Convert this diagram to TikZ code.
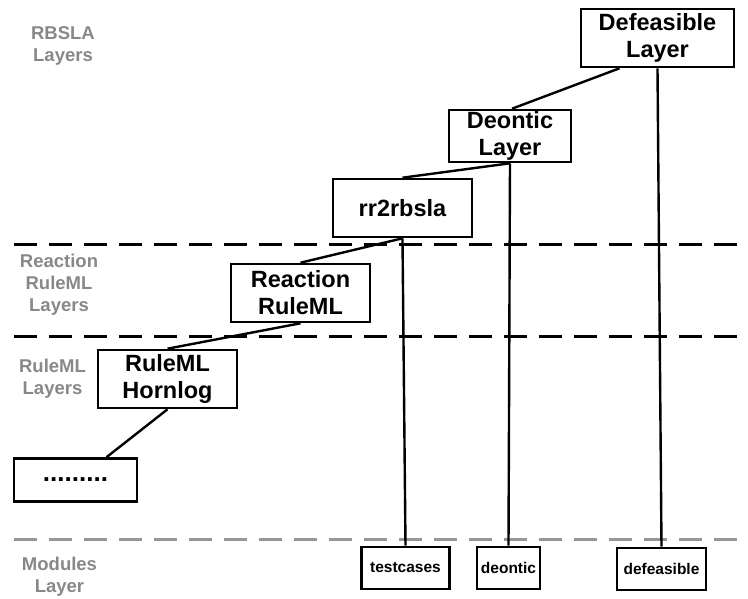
\documentclass[tikz,border=0pt]{standalone}
\usepackage{fontspec}
\setmainfont{Liberation Sans}
\usepackage{tikz}
\usetikzlibrary{positioning}

\definecolor{layergray}{RGB}{136,136,136}
\definecolor{sepgray}{RGB}{150,150,150}

\tikzset{
  layerbox/.style={draw, line width=2.6pt, align=center, inner sep=0pt,
    font=\fontsize{23.5}{27}\selectfont\bfseries},
  modbox/.style={draw, line width=2.6pt, align=center, inner sep=0pt,
    minimum height=42pt, font=\fontsize{15.5}{18}\selectfont\bfseries},
  layerlabel/.style={text=layergray, align=center,
    font=\fontsize{18.5}{22}\selectfont\bfseries},
  sep/.style={line width=3pt, dash pattern=on 23pt off 12pt},
  link/.style={line width=2.4pt}
}

\begin{document}
\begin{tikzpicture}[x=1pt, y=-1pt]
  \useasboundingbox (0,0) rectangle (748,599);

  % separators between layer groups
  \draw[sep] (14,245) -- (748,245);
  \draw[sep] (14,336) -- (748,336);
  \draw[sep, sepgray] (14,539) -- (748,539);

  \node[layerlabel] (l-rbsla)    at (63,46)    {RBSLA\\Layers};
  \node[layerlabel] (l-reaction) at (59,285)   {Reaction\\RuleML\\Layers};
  \node[layerlabel] (l-ruleml)   at (52.5,379) {RuleML\\Layers};
  \node[layerlabel] (l-modules)  at (59.5,577) {Modules\\Layer};

  \node[layerbox, minimum width=153pt, minimum height=58pt] (defeasible) at (657.5,38)  {Defeasible\\Layer};
  \node[layerbox, minimum width=122pt, minimum height=52pt] (deontic)    at (510,136)   {Deontic\\Layer};
  \node[layerbox, minimum width=139pt, minimum height=58pt] (rr2rbsla)   at (402.5,208) {rr2rbsla};
  \node[layerbox, minimum width=139pt, minimum height=58pt] (reaction)   at (300.5,293) {Reaction\\RuleML};
  \node[layerbox, minimum width=139pt, minimum height=58pt] (hornlog)    at (167.5,379) {RuleML\\Hornlog};
  \node[layerbox, minimum width=123pt, minimum height=43pt,
    font=\fontsize{26}{27}\selectfont\bfseries] (dots) at (75.5,480) {.........};

  \node[modbox, minimum width=88pt] (m-testcases)  at (405.5,568) {testcases};
  \node[modbox, minimum width=63pt] (m-deontic)    at (508.5,568) {deontic};
  \node[modbox, minimum width=89pt] (m-defeasible) at (661.5,569) {defeasible};

  % layer chain
  \draw[link] ([xshift=-38pt]defeasible.south) -- ([xshift=2pt]deontic.north);
  \draw[link] (deontic.south) -- (rr2rbsla.north);
  \draw[link] (rr2rbsla.south) -- (reaction.north);
  \draw[link] (reaction.south) -- (hornlog.north);
  \draw[link] (hornlog.south) -- ([xshift=31pt]dots.north);

  % modules
  \draw[link] (rr2rbsla.south) -- (m-testcases.north);
  \draw[link] (deontic.south) -- (m-deontic.north);
  \draw[link] (defeasible.south) -- (m-defeasible.north);
\end{tikzpicture}
\end{document}
